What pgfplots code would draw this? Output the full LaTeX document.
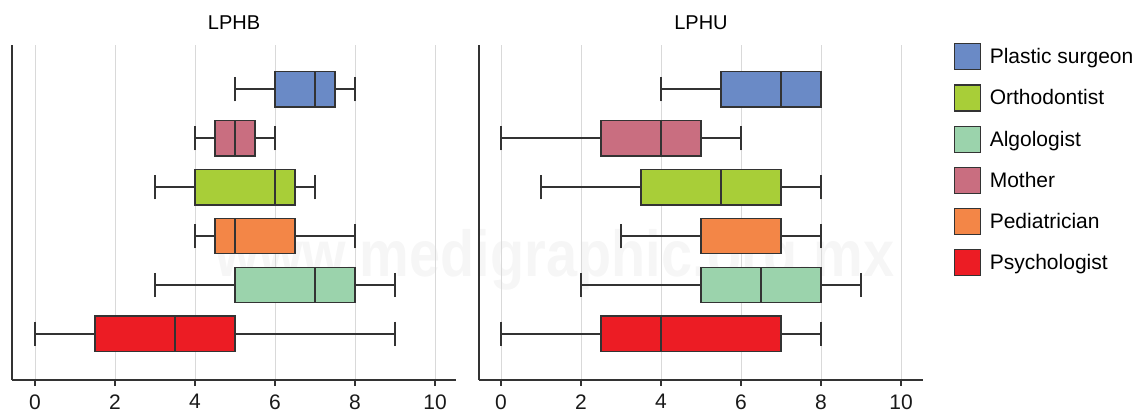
\documentclass[border=0pt]{standalone}
\usepackage{fontspec}
\setmainfont{Liberation Sans}
\usepackage{pgfplots}
\pgfplotsset{compat=1.18}
\usepgfplotslibrary{statistics}

\definecolor{cPlastic}{HTML}{6A8AC6}
\definecolor{cMother}{HTML}{C96E80}
\definecolor{cOrtho}{HTML}{A8CE38}
\definecolor{cPedi}{HTML}{F38647}
\definecolor{cAlgo}{HTML}{9BD3AC}
\definecolor{cPsych}{HTML}{EC1C24}
\definecolor{edge}{HTML}{333333}

\pgfplotsset{
  panel/.style={
    scale only axis, width=444pt, height=335pt,
    ymin=0.06, ymax=6.9,
    axis x line=bottom, axis y line=left,
    axis line style={-, line width=1.2pt, edge},
    ytick=\empty, xtick={0,2,...,10},
    tick align=outside, major tick length=6pt,
    tick style={line width=1.2pt, edge},
    xmajorgrids, major grid style={line width=1pt, gray!30},
    tick label style={font=\fontsize{21}{24}\selectfont, text=black!90},
    xticklabel style={yshift=-5pt},
    /pgf/number format/assume math mode=true,
    title style={font=\fontsize{20}{24}\selectfont, anchor=base, at={(0.5,1)}, yshift=9pt},
    boxplot/box extend=0.73,
    boxplot/whisker extend=0.5,
  },
  bx/.style={draw=edge, line width=1.2pt, fill=#1},
}

\begin{document}
\begin{tikzpicture}
\useasboundingbox (0,0) rectangle (1142pt,415pt);
% faint watermark of the source
\node[anchor=base, font=\fontsize{65}{70}\selectfont\bfseries, text=gray!7, xscale=0.86] at (555pt,138pt) {www.medigraphic.org.mx};

% ---- LPHB
\begin{axis}[panel, at={(12pt,35pt)}, anchor=south west,
  xmin=-0.575, xmax=10.525, title={LPHB}]
  \addplot[bx=cPlastic, boxplot prepared={lower whisker=5, lower quartile=6, median=7, upper quartile=7.5, upper whisker=8, draw position=6}] coordinates {};
  \addplot[bx=cMother, boxplot prepared={lower whisker=4, lower quartile=4.5, median=5, upper quartile=5.5, upper whisker=6, draw position=5}] coordinates {};
  \addplot[bx=cOrtho, boxplot prepared={lower whisker=3, lower quartile=4, median=6, upper quartile=6.5, upper whisker=7, draw position=4}] coordinates {};
  \addplot[bx=cPedi, boxplot prepared={lower whisker=4, lower quartile=4.5, median=5, upper quartile=6.5, upper whisker=8, draw position=3}] coordinates {};
  \addplot[bx=cAlgo, boxplot prepared={lower whisker=3, lower quartile=5, median=7, upper quartile=8, upper whisker=9, draw position=2}] coordinates {};
  \addplot[bx=cPsych, boxplot prepared={lower whisker=0, lower quartile=1.5, median=3.5, upper quartile=5, upper whisker=9, draw position=1}] coordinates {};
\end{axis}

% ---- LPHU
\begin{axis}[panel, at={(479pt,35pt)}, anchor=south west,
  xmin=-0.55, xmax=10.55, title={LPHU},
  legend style={draw=none, fill=none, at={(1,1)}, anchor=north west,
    xshift=28pt, yshift=4pt, row sep=14pt,
    font=\fontsize{21}{24}\selectfont},
  legend cell align=left,
  legend image code/.code={\draw[#1, draw=edge, line width=1.2pt] (0pt,-13pt) rectangle (26pt,13pt);
    \path[draw=none, fill=none] (0pt,0pt) -- (33pt,0pt);},
]
  \addplot[bx=cPlastic, forget plot, boxplot prepared={lower whisker=4, lower quartile=5.5, median=7, upper quartile=8, upper whisker=8, draw position=6}] coordinates {};
  \addplot[bx=cMother, forget plot, boxplot prepared={lower whisker=0, lower quartile=2.5, median=4, upper quartile=5, upper whisker=6, draw position=5}] coordinates {};
  \addplot[bx=cOrtho, forget plot, boxplot prepared={lower whisker=1, lower quartile=3.5, median=5.5, upper quartile=7, upper whisker=8, draw position=4}] coordinates {};
  \addplot[bx=cPedi, forget plot, boxplot prepared={lower whisker=3, lower quartile=5, median=7, upper quartile=7, upper whisker=8, draw position=3}] coordinates {};
  \addplot[bx=cAlgo, forget plot, boxplot prepared={lower whisker=2, lower quartile=5, median=6.5, upper quartile=8, upper whisker=9, draw position=2}] coordinates {};
  \addplot[bx=cPsych, forget plot, boxplot prepared={lower whisker=0, lower quartile=2.5, median=4, upper quartile=7, upper whisker=8, draw position=1}] coordinates {};
  \addlegendimage{fill=cPlastic}\addlegendentry{Plastic surgeon}
  \addlegendimage{fill=cOrtho}\addlegendentry{Orthodontist}
  \addlegendimage{fill=cAlgo}\addlegendentry{Algologist}
  \addlegendimage{fill=cMother}\addlegendentry{Mother}
  \addlegendimage{fill=cPedi}\addlegendentry{Pediatrician}
  \addlegendimage{fill=cPsych}\addlegendentry{Psychologist}
\end{axis}
\end{tikzpicture}
\end{document}
